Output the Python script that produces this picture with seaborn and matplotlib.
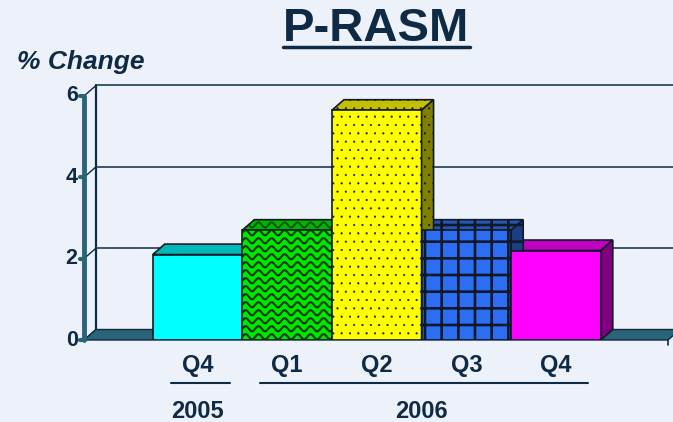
import numpy as np
import pandas as pd
import matplotlib
matplotlib.use("Agg")
import matplotlib.pyplot as plt
import seaborn as sns
from matplotlib.patches import Polygon
from matplotlib.lines import Line2D

# data
quarters = ["Q4", "Q1", "Q2", "Q3", "Q4"]
years = ["2005", "2006", "2006", "2006", "2006"]
pct_change = [2.1, 2.7, 5.65, 2.7, 2.2]
y_ticks = [0, 2, 4, 6]

# styling
bar_colors = ["#00ffff", "#00e600", "#ffff00", "#2b6ef2", "#ff00ff"]
top_colors = ["#00b8b8", "#00b400", "#c4c000", "#2456b4", "#c000c0"]
side_colors = ["#008c8c", "#008000", "#808000", "#1b3f86", "#800080"]
hatches = ["", "", "..", "+", ""]
hatch_lw = [1.0, 1.0, 0.3, 1.9, 1.0]
wavy = [False, True, False, False, False]

bg = "#edf2fa"
navy = "#0f2a44"
teal = "#2a6478"
edge = "#111827"

sns.set_theme(style="white")
plt.rcParams['font.family'] = ['Liberation Sans', 'DejaVu Sans']
plt.rcParams['hatch.linewidth'] = 1.8

fig = plt.figure(figsize=(6.73, 4.22), dpi=100, facecolor=bg)
ax = fig.add_axes([84 / 673, 82 / 422, 584 / 673, 260 / 422])
ax.set_facecolor("none")

df = pd.DataFrame({"period": [f"{q} {y}" for q, y in zip(quarters, years)],
                   "change": pct_change})
sns.barplot(data=df, x="period", y="change", hue="period", palette=bar_colors,
            width=1.0, saturation=1, edgecolor=edge, linewidth=1.2,
            legend=False, ax=ax)
bars = list(ax.patches)

x0, x1 = -1.267, 5.25
ax.set_xlim(x0, x1)
ax.set_ylim(0, 6.393)
ax.set_xticks([])
ax.set_yticks([])
ax.set_xlabel("")
ax.set_ylabel("")
sns.despine(ax=ax, left=True, bottom=True)

# depth offset of the fake 3D (12 px right, 10.5 px up)
dx, dy = 12 / 89.6, 10.5 / 40.67
x_edge = 5.31

# floor
ax.add_patch(Polygon([(x0, 0), (x1, 0), (x1 + dx, dy), (x0 + dx, dy)],
                     fc=teal, ec=navy, lw=1, zorder=1, clip_on=False))
ax.plot([x1, x1], [0, -0.13], color=navy, lw=1.2, clip_on=False, zorder=1)

# back wall and gridlines
ax.plot([x0 + dx, x0 + dx], [dy, 6 + dy], color=navy, lw=1.6, zorder=0.5, clip_on=False)
for v in y_ticks[1:]:
    ax.plot([x0 + dx, x_edge], [v + dy, v + dy], color="#2b4a60", lw=1.3,
            zorder=0.5, clip_on=False)
for v in y_ticks:
    ax.plot([x0, x0 + dx], [v, v + dy], color=navy, lw=1.0, zorder=0.6, clip_on=False)

# left axis
ax.plot([x0, x0], [0, 6], color=teal, lw=3.5, zorder=20, clip_on=False)
for v in y_ticks:
    ax.plot([x0 - 0.04, x0], [v, v], color=teal, lw=3, solid_capstyle="round",
            zorder=20, clip_on=False)
    ax.text(x0 - 0.07, v, str(v), ha="right", va="center", fontsize=15.5,
            weight="bold", color=navy)


def set_hlw(patch, lw):
    if hasattr(patch, "set_hatch_linewidth"):
        patch.set_hatch_linewidth(lw)


# 3D boxes built from the seaborn bars
for i, p in enumerate(bars):
    l, w, h = p.get_x(), p.get_width(), p.get_height()
    r = l + w
    p.set_hatch(hatches[i])
    set_hlw(p, hatch_lw[i])
    p.set_zorder(3 + 2 * i)
    top = Polygon([(l, h), (r, h), (r + dx, h + dy), (l + dx, h + dy)],
                  fc=top_colors[i], ec=edge, lw=1.2, hatch=hatches[i], zorder=2)
    side = Polygon([(r, 0), (r + dx, dy), (r + dx, h + dy), (r, h)],
                   fc=side_colors[i], ec=edge, lw=1.2, hatch=hatches[i],
                   zorder=4 + 2 * i)
    set_hlw(top, hatch_lw[i])
    set_hlw(side, hatch_lw[i])
    ax.add_patch(top)
    ax.add_patch(side)
    if wavy[i]:
        xs = np.linspace(l, r + dx, 300)
        wl, amp = 13 / 89.6, 2.6 / 40.67
        for yr in np.arange(0.08, h + 0.1, 8 / 40.67):
            ln, = ax.plot(xs, yr + amp * np.sin(2 * np.pi * (xs - l) / wl),
                          color="#003a00", lw=1.5, zorder=p.get_zorder() + 0.1)
            ln.set_clip_path(p)
        ln, = ax.plot(xs, h + dy / 2 + amp * np.sin(2 * np.pi * (xs - l) / wl),
                      color="#005000", lw=1.3, zorder=2.1)
        ln.set_clip_path(top)

# category labels
for i, q in enumerate(quarters):
    ax.text(i, -0.615, q, ha="center", va="center", fontsize=17, weight="bold",
            color=navy, clip_on=False)
for yr in dict.fromkeys(years):
    idx = [i for i, y in enumerate(years) if y == yr]
    ax.plot([min(idx) - 0.3, max(idx) + 0.36], [-1.057, -1.057], color=navy,
            lw=1.5, clip_on=False)
    ax.text(np.mean(idx), -1.75, yr, ha="center", va="center", fontsize=17,
            weight="bold", color=navy, clip_on=False)

# title and y label
fig.text(376 / 673, 1 - 29 / 422, "P-RASM", ha="center", va="center",
         fontsize=34, weight="bold", color=navy)
fig.add_artist(Line2D([283 / 673, 470 / 673], [1 - 47 / 422] * 2, color=navy, lw=2.5))
fig.text(17 / 673, 1 - 62 / 422, "% Change", ha="left", va="center",
         fontsize=19, weight="bold", style="italic", color=navy)

fig.savefig("out.png", dpi=100, facecolor=bg)
